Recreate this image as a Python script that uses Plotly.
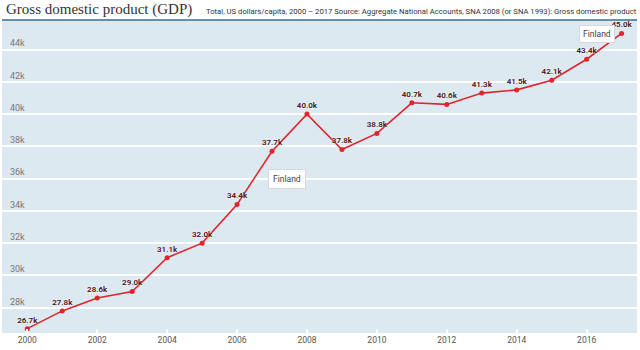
import plotly.graph_objects as go

years = list(range(2000, 2018))
gdp = [26.7, 27.8, 28.6, 29.0, 31.1, 32.0, 34.4, 37.7, 40.0, 37.8, 38.8, 40.7, 40.6, 41.3, 41.5, 42.1, 43.4, 45.0]
labels = [f"{v:.1f}k" for v in gdp]
ytick_vals = [28, 30, 32, 34, 36, 38, 40, 42, 44]
ytick_text = [f"{v}k" for v in ytick_vals]
xtick_vals = list(range(2000, 2017, 2))

cond = "Roboto, Arial"

fig = go.Figure()
fig.add_trace(go.Scatter(
    x=years, y=gdp, mode="lines+markers+text",
    text=labels, textposition="top center",
    textfont=dict(family=cond, size=8, color="#4a1010", weight=600,
                  shadow="0px 0px 2px white"),
    line=dict(color="#e0242c", width=1.6),
    marker=dict(color="#e0242c", size=5),
    hoverinfo="skip", showlegend=False, cliponaxis=False,
))

fig.update_layout(
    width=640, height=350,
    margin=dict(l=2, r=3, t=21, b=17),
    paper_bgcolor="white", plot_bgcolor="#dde9f1",
    xaxis=dict(range=[1999.276, 2017.44], tickvals=xtick_vals,
               ticks="inside", ticklen=4, tickcolor="white", tickwidth=1.5,
               showgrid=False, zeroline=False, showline=False,
               tickfont=dict(family=cond, size=8.5, color="#555")),
    yaxis=dict(range=[26.43, 45.77], tickvals=ytick_vals, ticktext=ytick_text,
               ticklabelposition="inside top", ticks="", ticklabelstandoff=5,
               gridcolor="white", gridwidth=1.5, zeroline=False, showline=False,
               tickfont=dict(family=cond, size=9, color="#777")),
    shapes=[dict(type="line", xref="paper", yref="paper", x0=0, x1=1, y0=1.003, y1=1.003,
                 line=dict(color="#2f6a96", width=1.5))],
    annotations=[
        dict(xref="paper", yref="paper", x=0.003, y=1.0, xanchor="left", yanchor="bottom",
             yshift=1, text="Gross domestic product (GDP)", showarrow=False,
             font=dict(family="Liberation Serif, DejaVu Serif, serif", size=15, color="#333")),
        dict(xref="paper", yref="paper", x=0.318, y=1.0, xanchor="left", yanchor="bottom",
             yshift=3,
             text="Total, US dollars/capita, 2000 – 2017 Source: Aggregate National Accounts, SNA 2008 (or SNA 1993): Gross domestic product",
             showarrow=False, font=dict(family=cond, size=7.7, color="#333")),
        dict(x=2006.88, y=35.98, xanchor="left", yanchor="middle", text="Finland",
             showarrow=False, bgcolor="white", bordercolor="#d8d8d8", borderwidth=1,
             borderpad=4, font=dict(family=cond, size=8.5, color="#444")),
        dict(x=2016.8, y=44.97, xanchor="right", yanchor="middle", text="Finland",
             showarrow=False, bgcolor="white", bordercolor="#d8d8d8", borderwidth=1,
             borderpad=3, font=dict(family=cond, size=8.5, color="#444")),
    ],
)

fig.write_html("out.html")
